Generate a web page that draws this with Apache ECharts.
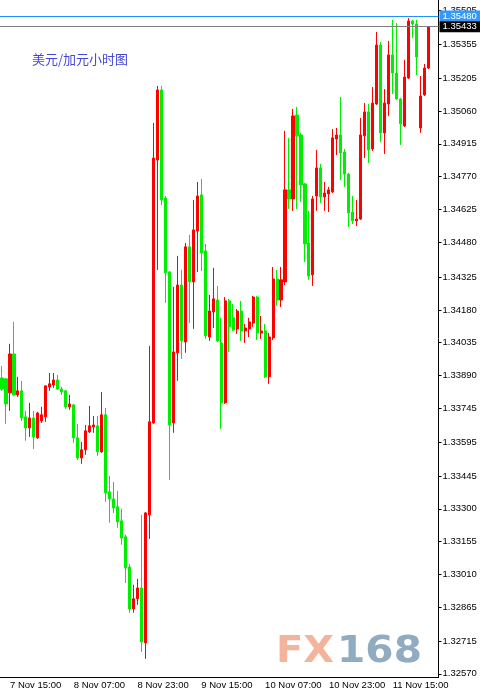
<!DOCTYPE html>
<html>
<head>
<meta charset="utf-8">
<title>美元/加元小时图</title>
<script src="https://cdn.jsdelivr.net/npm/echarts@6/dist/echarts.min.js"></script>
<style>
  html, body { margin: 0; padding: 0; background: #fff; }
  #chart { width: 480px; height: 696px; }
</style>
</head>
<body>
<div id="chart"></div>
<script>
// 每小时K线：开 / 收 / 低 / 高
var openPrices = [
  1.33879, 1.33875, 1.33813, 1.33985, 1.33804, 1.33822, 1.33707, 1.33658, 1.33702, 1.33614,
  1.33689, 1.33707, 1.33839, 1.33848, 1.33870, 1.33830, 1.33822, 1.33751, 1.33760, 1.33614,
  1.33525, 1.33561, 1.33640, 1.33662, 1.33667, 1.33552, 1.33716, 1.33375, 1.33344, 1.33309,
  1.33247, 1.33176, 1.33043, 1.32857, 1.32902, 1.32950, 1.32707, 1.33273, 1.33680, 1.34843,
  1.35153, 1.34675, 1.34348, 1.33680, 1.33990, 1.34290, 1.34038, 1.34459, 1.34304, 1.34529,
  1.34689, 1.34441, 1.34060, 1.34171, 1.34224, 1.34034, 1.33769, 1.34220, 1.34145, 1.34096,
  1.34175, 1.34087, 1.34096, 1.34122, 1.34237, 1.34078, 1.34087, 1.33884, 1.34056, 1.34317,
  1.34224, 1.34304, 1.34711, 1.34671, 1.35042, 1.34954, 1.34737, 1.34476, 1.34335, 1.34684,
  1.34808, 1.34680, 1.34693, 1.34702, 1.34936, 1.34954, 1.34879, 1.34781, 1.34613, 1.34574,
  1.34582, 1.34950, 1.35056, 1.34892, 1.35091, 1.35352, 1.34963, 1.35091, 1.35308, 1.35228,
  1.35113, 1.34994, 1.35206, 1.35458, 1.35445, 1.34985, 1.35131, 1.35250
]
var closePrices = [
  1.33830, 1.33764, 1.33985, 1.33804, 1.33822, 1.33702, 1.33658, 1.33702, 1.33618, 1.33724,
  1.33716, 1.33844, 1.33853, 1.33870, 1.33830, 1.33817, 1.33751, 1.33764, 1.33614, 1.33525,
  1.33561, 1.33645, 1.33667, 1.33671, 1.33552, 1.33716, 1.33371, 1.33344, 1.33304, 1.33242,
  1.33171, 1.33039, 1.32857, 1.32902, 1.32950, 1.32711, 1.33282, 1.33685, 1.34852, 1.35153,
  1.34666, 1.34344, 1.33671, 1.33994, 1.34290, 1.34043, 1.34459, 1.34304, 1.34534, 1.34684,
  1.34432, 1.34065, 1.34175, 1.34229, 1.34043, 1.33769, 1.34220, 1.34105, 1.34091, 1.34175,
  1.34087, 1.34100, 1.34127, 1.34237, 1.34078, 1.34087, 1.33884, 1.34060, 1.34317, 1.34224,
  1.34313, 1.34711, 1.34671, 1.35038, 1.34950, 1.34733, 1.34472, 1.34330, 1.34671, 1.34808,
  1.34680, 1.34697, 1.34711, 1.34941, 1.34954, 1.34874, 1.34781, 1.34609, 1.34574, 1.34582,
  1.34954, 1.35056, 1.34888, 1.35095, 1.35352, 1.34963, 1.35095, 1.35308, 1.35228, 1.35113,
  1.35003, 1.35210, 1.35458, 1.35445, 1.35299, 1.35126, 1.35250, 1.35433
]
var lowPrices = [
  1.33822, 1.33676, 1.33733, 1.33800, 1.33795, 1.33689, 1.33601, 1.33618, 1.33565, 1.33609,
  1.33680, 1.33685, 1.33822, 1.33835, 1.33826, 1.33804, 1.33742, 1.33738, 1.33592, 1.33516,
  1.33499, 1.33539, 1.33636, 1.33636, 1.33534, 1.33547, 1.33331, 1.33238, 1.33282, 1.33216,
  1.33141, 1.32972, 1.32840, 1.32840, 1.32875, 1.32667, 1.32636, 1.33167, 1.33676, 1.34357,
  1.34644, 1.34211, 1.33428, 1.33636, 1.33866, 1.33963, 1.33990, 1.34122, 1.34096, 1.34348,
  1.34352, 1.34052, 1.34043, 1.34100, 1.34038, 1.33654, 1.33764, 1.33994, 1.34087, 1.34074,
  1.34043, 1.34034, 1.34060, 1.34105, 1.34047, 1.34052, 1.33879, 1.33853, 1.34047, 1.34198,
  1.34193, 1.34290, 1.34627, 1.34618, 1.34627, 1.34658, 1.34392, 1.34313, 1.34286, 1.34618,
  1.34653, 1.34618, 1.34613, 1.34697, 1.34865, 1.34755, 1.34724, 1.34547, 1.34560, 1.34551,
  1.34578, 1.34852, 1.34830, 1.34883, 1.35087, 1.34923, 1.34870, 1.35038, 1.35135, 1.35109,
  1.34910, 1.34989, 1.35202, 1.35383, 1.35219, 1.34963, 1.35126, 1.35246
]
var highPrices = [
  1.33932, 1.33879, 1.34030, 1.34127, 1.33884, 1.33866, 1.33733, 1.33769, 1.33733, 1.33729,
  1.33751, 1.33844, 1.33901, 1.33901, 1.33892, 1.33839, 1.33826, 1.33804, 1.33764, 1.33676,
  1.33596, 1.33671, 1.33755, 1.33711, 1.33711, 1.33817, 1.33746, 1.33446, 1.33419, 1.33379,
  1.33300, 1.33185, 1.33056, 1.32964, 1.32990, 1.33273, 1.33286, 1.34021, 1.35007, 1.35171,
  1.35171, 1.34684, 1.34352, 1.34282, 1.34419, 1.34357, 1.34476, 1.34512, 1.34666, 1.34746,
  1.34759, 1.34472, 1.34246, 1.34366, 1.34286, 1.34145, 1.34237, 1.34229, 1.34206, 1.34184,
  1.34220, 1.34118, 1.34145, 1.34242, 1.34242, 1.34153, 1.34118, 1.34078, 1.34370, 1.34357,
  1.34370, 1.34972, 1.34941, 1.35069, 1.35078, 1.34963, 1.34742, 1.34618, 1.34684, 1.34888,
  1.34826, 1.34746, 1.34724, 1.34980, 1.34985, 1.35122, 1.34892, 1.34786, 1.34684, 1.34666,
  1.35029, 1.35095, 1.35091, 1.35166, 1.35410, 1.35365, 1.35157, 1.35370, 1.35463, 1.35449,
  1.35118, 1.35286, 1.35471, 1.35463, 1.35463, 1.35215, 1.35268, 1.35436
]

// 坐标轴刻度标签
var xTickLabels = ['7 Nov 15:00', '8 Nov 07:00', '8 Nov 23:00', '9 Nov 15:00', '10 Nov 07:00', '10 Nov 23:00', '11 Nov 15:00']
var yTickLabels = [
  '1.32570', '1.32715', '1.32865', '1.33010', '1.33155', '1.33300', '1.33445', '1.33595',
  '1.33745', '1.33890', '1.34035', '1.34180', '1.34325', '1.34480', '1.34625', '1.34770',
  '1.34915', '1.35060', '1.35205', '1.35355', '1.35505'
]

// 水平线：卖价 / 最新价
var askPrice = 1.35480
var lastPrice = 1.35433

// 时间类目（7 Nov 13:00 起，每小时一根，末尾留两个空位）
var categories = []
for (var i = 0; i < openPrices.length + 2; i++) {
  var h = 13 + i
  var hour = h % 24
  categories.push((7 + Math.floor(h / 24)) + ' Nov ' + (hour < 10 ? '0' : '') + hour + ':00')
}

var candleData = openPrices.map(function (o, i) {
  return [o, closePrices[i], lowPrices[i], highPrices[i]]
})
var yTickValues = yTickLabels.map(Number)

var labelFont = 'Liberation Sans'
var showTick = function (index, value) {
  return xTickLabels.indexOf(value) >= 0
}

var chart = echarts.init(document.getElementById('chart'))
chart.setOption({
  animation: false,
  backgroundColor: '#ffffff',
  title: {
    text: '美元/加元小时图',
    left: 27,
    top: 48,
    textStyle: {
      fontFamily: 'Noto Sans CJK SC',
      fontSize: 13,
      fontWeight: 'normal',
      color: '#4646d6'
    }
  },
  // 每根K线 4px，中心落在半像素上
  grid: { left: -1.5, right: 41.5, top: 0, bottom: 19 },
  xAxis: {
    type: 'category',
    data: categories,
    boundaryGap: true,
    axisLine: { lineStyle: { color: '#000', width: 1 } },
    axisTick: { alignWithLabel: true, length: 5, interval: showTick, lineStyle: { color: '#000' } },
    axisLabel: {
      interval: showTick,
      align: 'left',
      margin: 3,
      color: '#000',
      fontSize: 9.5,
      fontFamily: labelFont
    },
    splitLine: { show: false }
  },
  yAxis: {
    type: 'value',
    position: 'right',
    min: 1.32556,
    max: 1.35551,
    axisLine: { show: true, lineStyle: { color: '#000', width: 1 } },
    axisTick: { show: true, length: 3, customValues: yTickValues, lineStyle: { color: '#000' } },
    axisLabel: {
      customValues: yTickValues,
      formatter: function (v) {
        var idx = yTickValues.indexOf(v)
        return idx >= 0 ? yTickLabels[idx] : v.toFixed(5)
      },
      margin: 4,
      color: '#000',
      fontSize: 9.5,
      fontFamily: labelFont
    },
    splitLine: { show: false }
  },
  series: [{
    type: 'candlestick',
    data: candleData,
    barWidth: 2.6,
    itemStyle: {
      color: '#ff0000',
      color0: '#00ee00',
      borderColor: '#ff0000',
      borderColor0: '#00ee00',
      borderWidth: 1
    },
    markLine: {
      silent: true,
      symbol: 'none',
      precision: 5,
      animation: false,
      label: {
        position: 'end',
        distance: 1,
        padding: [1, 6, 0, 3],
        fontSize: 9.5,
        fontFamily: labelFont,
        formatter: function (p) { return p.value.toFixed(5) }
      },
      data: [
        {
          yAxis: askPrice,
          lineStyle: { color: '#1e90ff', type: 'solid', width: 1 },
          label: { color: '#fff', backgroundColor: '#3399ff' }
        },
        {
          yAxis: lastPrice,
          lineStyle: { color: '#808080', type: 'solid', width: 1 },
          label: { color: '#fff', backgroundColor: '#000' }
        }
      ]
    }
  }],
  // 水印
  graphic: [
    {
      type: 'text',
      x: 276,
      y: 652,
      scaleX: 1.08,
      z: 0,
      silent: true,
      style: {
        text: 'FX',
        fill: '#f3b49e',
        font: 'bold 37px "DejaVu Sans"',
        textVerticalAlign: 'middle'
      }
    },
    {
      type: 'text',
      x: 337,
      y: 652,
      scaleX: 1.1,
      z: 0,
      silent: true,
      style: {
        text: '168',
        fill: '#91abc1',
        font: 'bold 37px "DejaVu Sans"',
        textVerticalAlign: 'middle'
      }
    }
  ]
})
</script>
</body>
</html>
